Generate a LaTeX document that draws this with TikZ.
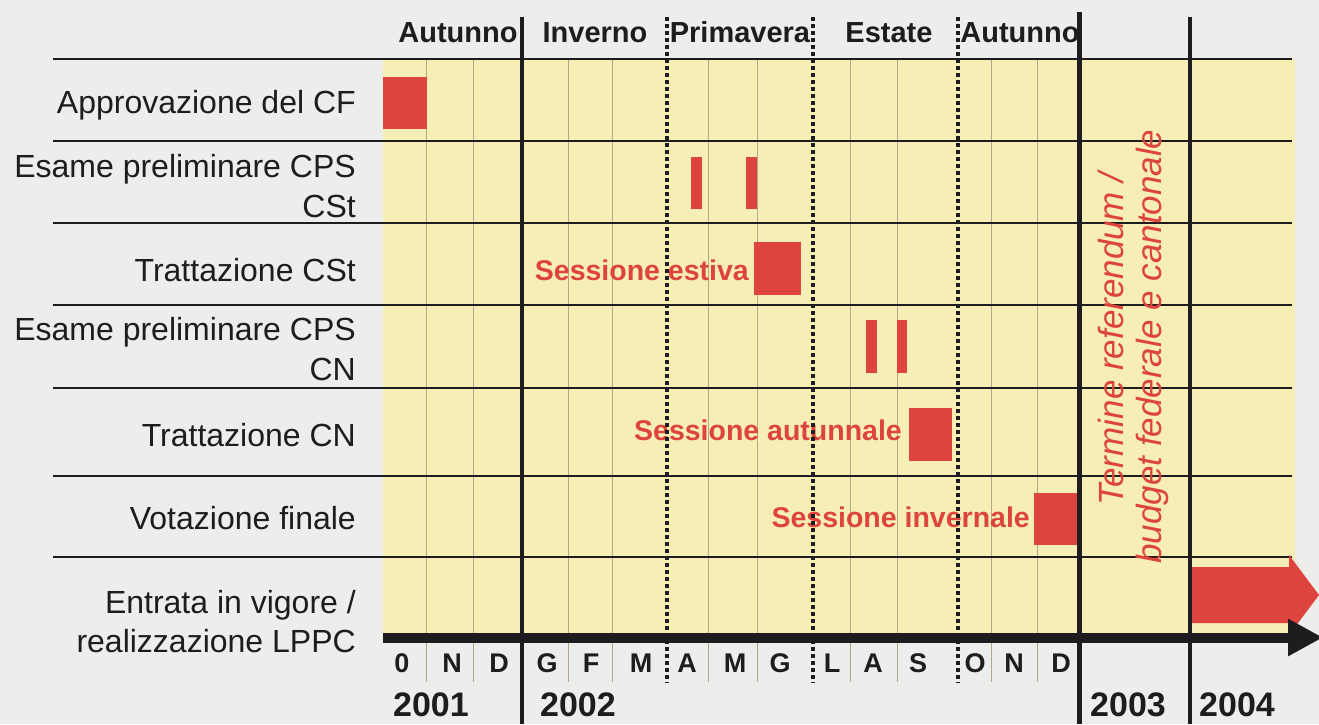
\documentclass[tikz,border=0pt]{standalone}
\usepackage{fontspec}
\setmainfont{Liberation Sans}
\usetikzlibrary{arrows.meta}
\definecolor{bgc}{RGB}{237,237,235}
\definecolor{yel}{RGB}{246,238,180}
\definecolor{redc}{RGB}{221,68,61}
\definecolor{ink}{RGB}{30,28,30}
\definecolor{thinc}{RGB}{178,168,142}
\begin{document}
\begin{tikzpicture}[x=1pt,y=-1pt,
  lbl/.style={anchor=base east, inner sep=0pt, text=ink, font=\fontsize{32}{38}\selectfont},
  seasonlbl/.style={anchor=base, inner sep=0pt, text=ink, font=\bfseries\fontsize{29}{34}\selectfont},
  monlbl/.style={anchor=base, inner sep=0pt, text=ink, font=\bfseries\fontsize{27}{32}\selectfont},
  yrlbl/.style={anchor=base, inner sep=0pt, text=ink, font=\bfseries\fontsize{34}{38}\selectfont},
  sesslbl/.style={anchor=base east, inner sep=0pt, text=redc, font=\bfseries\fontsize{28.5}{34}\selectfont},
  termlbl/.style={anchor=base, inner sep=0pt, rotate=90, text=redc, font=\itshape\fontsize{35}{38}\selectfont},
  rowline/.style={draw=ink, line width=1.4pt},
  monline/.style={draw=thinc, line width=0.8pt},
  seasonline/.style={draw=ink, line width=3.5pt, dash pattern=on 3.5pt off 3.5pt},
  yearline/.style={draw=ink, line width=4.5pt},
  redbar/.style={fill=redc},
]
\useasboundingbox (0,0) rectangle (1319,724);
\fill[bgc] (0,0) rectangle (1319,724);
\fill[yel] (383,59) rectangle (1295,637);

% month lines
\foreach \x in {426,473,568,612,708,757,850,897,991,1037}
  \draw[monline] (\x,59) -- (\x,682);

% row lines
\foreach \y in {59,141,223,305,388,476,557}
  \draw[rowline] (53,\y) -- (1292,\y);

% red bars
\fill[redbar] (383,77) rectangle (427,129);
\fill[redbar] (691,157) rectangle (702,209);
\fill[redbar] (746,157) rectangle (757,209);
\fill[redbar] (754,242) rectangle (801,295);
\fill[redbar] (866,320) rectangle (877,373);
\fill[redbar] (897,320) rectangle (907,373);
\fill[redbar] (909,408) rectangle (952,461);
\fill[redbar] (1034,493) rectangle (1078,545);

% entry arrow
\fill[redc] (1192,567) -- (1289,567) -- (1289,555) -- (1319,595) -- (1289,635) -- (1289,623) -- (1192,623) -- cycle;

% time axis
\coordinate (axstart) at (383,637.5);
\coordinate (axend) at (1323,637.5);
\draw[ink, line width=10pt, -{Triangle[length=35pt,width=35pt]}] (axstart) -- (axend);

% red session labels
\node[sesslbl] (sest) at (749,280) {Sessione estiva};
\node[sesslbl] (saut) at (902,440) {Sessione autunnale};
\node[sesslbl] (sinv) at (1030,527) {Sessione invernale};

% season dotted lines
\foreach \x in {667,813,958}
  \draw[seasonline] (\x,17) -- (\x,683);

% year lines
\draw[yearline] (522,17) -- (522,724);
\draw[yearline] (1079.5,12) -- (1079.5,724);
\draw[yearline] (1190,17) -- (1190,724);

% row labels
\node[lbl] (r1) at (356,113) {Approvazione del CF};
\node[lbl] (r2a) at (356,177) {Esame preliminare CPS};
\node[lbl] (r2b) at (356,217) {CSt};
\node[lbl] (r3) at (356,281) {Trattazione CSt};
\node[lbl] (r4a) at (356,340) {Esame preliminare CPS};
\node[lbl] (r4b) at (356,380) {CN};
\node[lbl] (r5) at (356,446) {Trattazione CN};
\node[lbl] (r6) at (356,529) {Votazione finale};
\node[lbl] (r7a) at (356,613) {Entrata in vigore /};
\node[lbl] (r7b) at (356,652) {realizzazione LPPC};

% season headers
\node[seasonlbl] (h1) at (458,42) {Autunno};
\node[seasonlbl] (h2) at (595,42) {Inverno};
\node[seasonlbl] (h3) at (740,42) {Primavera};
\node[seasonlbl] (h4) at (889,42) {Estate};
\node[seasonlbl] (h5) at (1020,42) {Autunno};

% months
\node[monlbl] (m1) at (402,672) {0};
\node[monlbl] (m2) at (452,672) {N};
\node[monlbl] (m3) at (499,672) {D};
\node[monlbl] (m4) at (547,672) {G};
\node[monlbl] (m5) at (591,672) {F};
\node[monlbl] (m6) at (641,672) {M};
\node[monlbl] (m7) at (687,672) {A};
\node[monlbl] (m8) at (735,672) {M};
\node[monlbl] (m9) at (780,672) {G};
\node[monlbl] (m10) at (832,672) {L};
\node[monlbl] (m11) at (873,672) {A};
\node[monlbl] (m12) at (918,672) {S};
\node[monlbl] (m13) at (975,672) {O};
\node[monlbl] (m14) at (1014,672) {N};
\node[monlbl] (m15) at (1061,672) {D};

% years
\node[yrlbl] (y1) at (431,716.5) {2001};
\node[yrlbl] (y2) at (578,716.5) {2002};
\node[yrlbl] (y3) at (1128,716.5) {2003};
\node[yrlbl] (y4) at (1237,716.5) {2004};

% referendum text
\node[termlbl] (t1) at (1123,339) {Termine referendum /};
\node[termlbl] (t2) at (1161,346.5) {budget federale e cantonale};
\end{tikzpicture}
\end{document}
